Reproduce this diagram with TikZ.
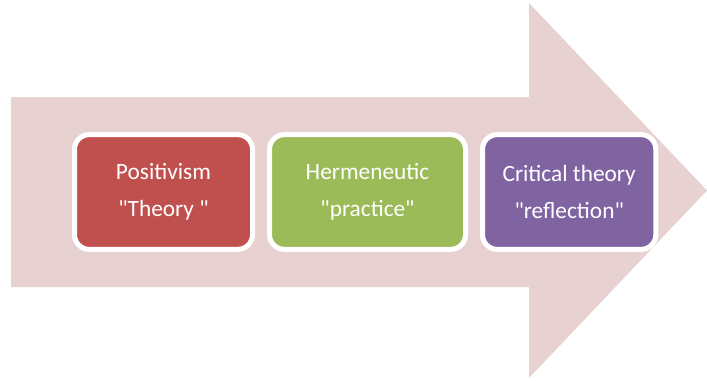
\documentclass[tikz,border=0pt]{standalone}
\usepackage{fontspec}
\setmainfont{Carlito}[Ligatures=TeXOff]
\usetikzlibrary{positioning}
\definecolor{arrowpink}{RGB}{232,209,209}
\definecolor{boxred}{RGB}{192,80,77}
\definecolor{boxgreen}{RGB}{155,187,89}
\definecolor{boxpurple}{RGB}{128,100,162}
\begin{document}
\begin{tikzpicture}[x=0.75pt,y=-0.75pt,node distance=9pt,
                    stage box/.style={rectangle,rounded corners=11pt,draw=white,line width=3.75pt,
                      minimum height=86pt,align=center,text=white,
                      font=\fontsize{17.5}{27.5}\selectfont}]
  \useasboundingbox (0,0) rectangle (707,380);
  % big arrow behind the boxes
  \fill[arrowpink] (11,97) -- (529,97) -- (529,3) -- (707,190.5) -- (529,378)
    -- (529,287) -- (11,287) -- cycle;

  \node[stage box,fill=boxred,minimum width=133.5pt] (positivism) at (163.5,192) {Positivism\\"Theory "};
  \node[stage box,fill=boxgreen,minimum width=147pt] (hermeneutic) [right=of positivism] {Hermeneutic\\"practice"};
  \node[stage box,fill=boxpurple,minimum width=130pt] (critical) [right=of hermeneutic] {Critical theory\\"reflection"};
\end{tikzpicture}
\end{document}
